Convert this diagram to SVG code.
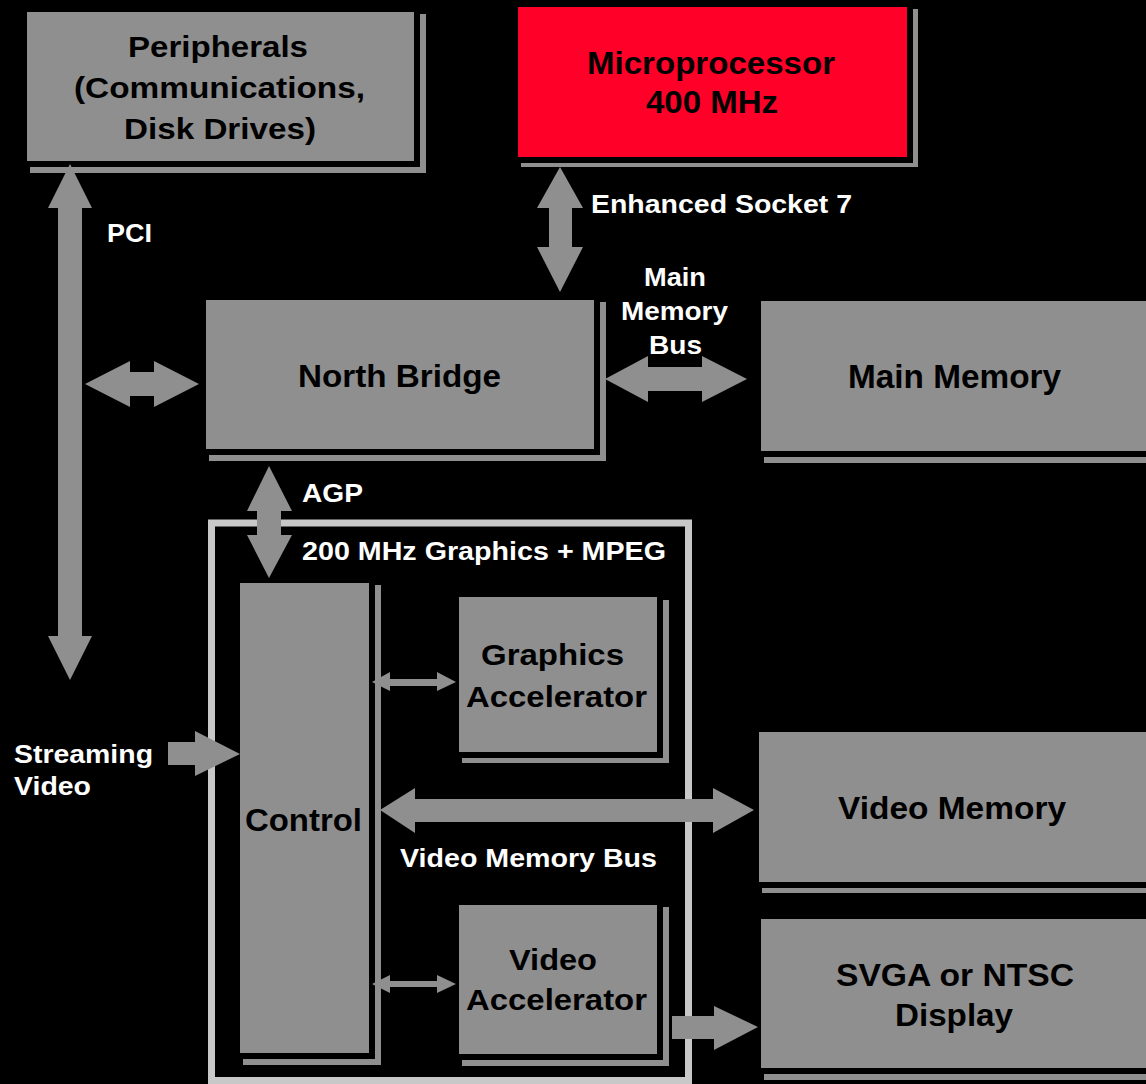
<svg xmlns="http://www.w3.org/2000/svg" width="1146" height="1084" viewBox="0 0 1146 1084">
<style>
.shd{fill:#8f8f8f}
.box{fill:#8f8f8f;stroke:#000;stroke-width:6}
.red{fill:#ff0028;stroke:#000;stroke-width:6}
.arr{fill:#8f8f8f}
.t{font-family:"Liberation Sans",Arial,sans-serif;font-weight:bold;fill:#000}
.w{font-family:"Liberation Sans",Arial,sans-serif;font-weight:bold;fill:#fff;font-size:25px}
</style>
<rect width="1146" height="1084" fill="#000"/>
<g id="frame">
<rect x="211.5" y="523" width="477" height="557.5" fill="none" stroke="#c8c8c8" stroke-width="7"/>
</g>
<g id="peripherals">
<rect class="shd" x="30" y="14" width="396" height="159"/>
<rect class="box" x="24" y="9" width="393" height="155"/>
<text class="t" font-size="29" x="128" y="57" textLength="180" lengthAdjust="spacingAndGlyphs">Peripherals</text>
<text class="t" font-size="29" x="74" y="98" textLength="291" lengthAdjust="spacingAndGlyphs">(Communications,</text>
<text class="t" font-size="29" x="124" y="139" textLength="192" lengthAdjust="spacingAndGlyphs">Disk Drives)</text>
</g>
<g id="microprocessor">
<rect class="shd" x="521" y="9" width="397" height="158"/>
<rect class="red" x="515" y="4" width="395" height="156"/>
<text class="t" font-size="31" x="587" y="74" textLength="248" lengthAdjust="spacingAndGlyphs">Microprocessor</text>
<text class="t" font-size="31" x="646" y="113" textLength="132" lengthAdjust="spacingAndGlyphs">400 MHz</text>
</g>
<g id="northbridge">
<rect class="shd" x="209" y="302" width="397" height="159"/>
<rect class="box" x="203" y="297" width="394" height="155"/>
<text class="t" font-size="32" x="298" y="387" textLength="203" lengthAdjust="spacingAndGlyphs">North Bridge</text>
</g>
<g id="mainmemory">
<rect class="shd" x="764" y="303" width="390" height="160"/>
<rect class="box" x="758" y="298" width="396" height="156"/>
<text class="t" font-size="33" x="848" y="388" textLength="213" lengthAdjust="spacingAndGlyphs">Main Memory</text>
</g>
<g id="control">
<rect class="shd" x="243" y="585" width="138" height="480"/>
<rect class="box" x="237" y="580" width="135" height="476"/>
<text class="t" font-size="31" x="245" y="831" textLength="117" lengthAdjust="spacingAndGlyphs">Control</text>
</g>
<g id="graphicsaccel">
<rect class="shd" x="462" y="600" width="207" height="163"/>
<rect class="box" x="456" y="594" width="204" height="161"/>
<text class="t" font-size="30" x="481" y="665" textLength="143" lengthAdjust="spacingAndGlyphs">Graphics</text>
<text class="t" font-size="30" x="466" y="707" textLength="181" lengthAdjust="spacingAndGlyphs">Accelerator</text>
</g>
<g id="videoaccel">
<rect class="shd" x="462" y="907" width="207" height="159"/>
<rect class="box" x="456" y="902" width="204" height="155"/>
<text class="t" font-size="30" x="509" y="970" textLength="88" lengthAdjust="spacingAndGlyphs">Video</text>
<text class="t" font-size="30" x="466" y="1010" textLength="181" lengthAdjust="spacingAndGlyphs">Accelerator</text>
</g>
<g id="videomemory">
<rect class="shd" x="762" y="734" width="390" height="159"/>
<rect class="box" x="756" y="729" width="398" height="156"/>
<text class="t" font-size="31" x="838" y="819" textLength="228" lengthAdjust="spacingAndGlyphs">Video Memory</text>
</g>
<g id="display">
<rect class="shd" x="764" y="921" width="390" height="159"/>
<rect class="box" x="758" y="916" width="396" height="155"/>
<text class="t" font-size="31" x="836" y="986" textLength="238" lengthAdjust="spacingAndGlyphs">SVGA or NTSC</text>
<text class="t" font-size="31" x="895" y="1026" textLength="118" lengthAdjust="spacingAndGlyphs">Display</text>
</g>
<g id="connectors">
<polygon class="arr" points="70,164 92,208 82,208 82,636 92,636 70,680 48,636 58,636 58,208 48,208"/>
<polygon class="arr" points="85,384 130,361 130,372 154,372 154,361 199,384 154,407 154,396 130,396 130,407"/>
<polygon class="arr" points="560,167 583,208 572,208 572,247 583,247 560,292 537,247 549,247 549,208 537,208"/>
<polygon class="arr" points="605,379 648,356 648,367 702,367 702,356 747,379 702,402 702,391 648,391 648,402"/>
<polygon class="arr" points="269,466 292,511 281,511 281,535 292,535 269,578 247,535 257,535 257,511 247,511"/>
<polygon class="arr" points="168,742 195,742 195,731 240,754 195,776 195,765 168,765"/>
<polygon class="arr" points="372,682 390,672 390,679 437,679 437,672 456,682 437,691 437,686 390,686 390,691"/>
<polygon class="arr" points="372,984 390,975 390,981 437,981 437,975 456,984 437,993 437,987 390,987 390,993"/>
<polygon class="arr" points="380,810 415,788 415,799 713,799 713,788 754,810 713,833 713,822 415,822 415,833"/>
<polygon class="arr" points="672,1016 714,1016 714,1006 758,1027 714,1050 714,1039 672,1039"/>
</g>
<g id="labels">
<text class="w" x="107" y="242" textLength="45" lengthAdjust="spacingAndGlyphs">PCI</text>
<text class="w" x="591" y="213" textLength="261" lengthAdjust="spacingAndGlyphs">Enhanced Socket 7</text>
<text class="w" x="644" y="286" textLength="62" lengthAdjust="spacingAndGlyphs">Main</text>
<text class="w" x="621" y="320" textLength="107" lengthAdjust="spacingAndGlyphs">Memory</text>
<text class="w" x="649" y="354" textLength="53" lengthAdjust="spacingAndGlyphs">Bus</text>
<text class="w" x="302" y="502" textLength="61" lengthAdjust="spacingAndGlyphs">AGP</text>
<text class="w" x="302" y="560" textLength="364" lengthAdjust="spacingAndGlyphs">200 MHz Graphics + MPEG</text>
<text class="w" x="400" y="867" textLength="257" lengthAdjust="spacingAndGlyphs">Video Memory Bus</text>
<text class="w" x="14" y="763" textLength="139" lengthAdjust="spacingAndGlyphs">Streaming</text>
<text class="w" x="14" y="795" textLength="77" lengthAdjust="spacingAndGlyphs">Video</text>
</g>
</svg>
